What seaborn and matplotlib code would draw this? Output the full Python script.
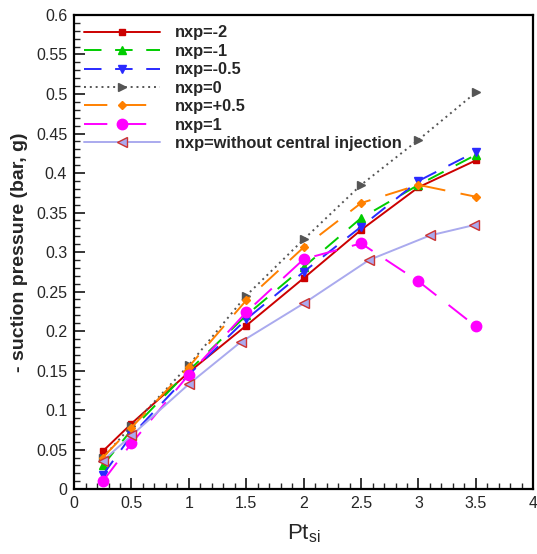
import matplotlib
matplotlib.use('Agg')
import matplotlib.pyplot as plt
from matplotlib.ticker import MultipleLocator
import seaborn as sns
import pandas as pd

sns.set_style('white')
plt.rcParams['font.family'] = ['Liberation Sans', 'DejaVu Sans']

# data
pt = [0.25, 0.5, 1, 1.5, 2, 2.5, 3, 3.5]
pt_without = [0.25, 0.5, 1, 1.45, 2, 2.57, 3.1, 3.48]

nxp_m2 = [0.048, 0.083, 0.148, 0.207, 0.267, 0.328, 0.382, 0.416]
nxp_m1 = [0.030, 0.075, 0.150, 0.220, 0.281, 0.343, 0.385, 0.423]
nxp_m05 = [0.018, 0.068, 0.145, 0.215, 0.275, 0.332, 0.390, 0.427]
nxp_0 = [0.040, 0.080, 0.157, 0.245, 0.316, 0.385, 0.442, 0.502]
nxp_p05 = [0.040, 0.078, 0.155, 0.239, 0.306, 0.362, 0.385, 0.370]
nxp_1 = [0.010, 0.058, 0.145, 0.224, 0.291, 0.311, 0.263, 0.206]
nxp_without = [0.036, 0.068, 0.133, 0.186, 0.235, 0.290, 0.321, 0.334]

labels = ['nxp=-2', 'nxp=-1', 'nxp=-0.5', 'nxp=0', 'nxp=+0.5', 'nxp=1',
          'nxp=without central injection']

series = [
    (pt, nxp_m2, dict(color='#cc0000', ls='-', marker='s', ms=5, mfc='#cc0000', mec='#cc0000')),
    (pt, nxp_m1, dict(color='#00cc00', ls=(0, (9, 7)), marker='^', ms=5.5, mfc='#00cc00', mec='#00cc00')),
    (pt, nxp_m05, dict(color='#2a2aff', ls=(0, (9, 7)), marker='v', ms=6, mfc='#2a2aff', mec='#2a2aff')),
    (pt, nxp_0, dict(color='#555555', ls=(0, (1, 2)), marker='>', ms=6, mfc='#555555', mec='#555555')),
    (pt, nxp_p05, dict(color='#ff8000', ls=(0, (12, 8)), marker='D', ms=4.5, mfc='#ff8000', mec='#ff8000')),
    (pt, nxp_1, dict(color='#ff00ff', ls=(0, (12, 8)), marker='o', ms=7.5, mfc='#ff00ff', mec='#ff00ff')),
    (pt_without, nxp_without, dict(color='#aaaaee', ls='-', marker='<', ms=7, mfc='#aaaaee', mec='#cc3333')),
]

fig = plt.figure(figsize=(5.37, 5.54), dpi=100)
ax = fig.add_axes([0.138, 0.117, 0.855, 0.856])

for (x, y, st), lab in zip(series, labels):
    df = pd.DataFrame({'x': x, 'y': y})
    sns.lineplot(data=df, x='x', y='y', ax=ax, label=lab, lw=1.4,
                 color=st['color'], linestyle=st['ls'], marker=st['marker'],
                 markersize=st['ms'], markerfacecolor=st['mfc'],
                 markeredgecolor=st['mec'], markeredgewidth=1)

ax.set_xlim(0, 4)
ax.set_ylim(0, 0.6)
ax.xaxis.set_major_locator(MultipleLocator(0.5))
ax.xaxis.set_minor_locator(MultipleLocator(0.1))
ax.yaxis.set_major_locator(MultipleLocator(0.05))
ax.yaxis.set_minor_locator(MultipleLocator(0.01))
ax.xaxis.set_major_formatter(lambda v, p: f'{v:g}')
ax.yaxis.set_major_formatter(lambda v, p: f'{v:g}')

ax.tick_params(which='major', direction='in', length=8, width=1.3, labelsize=11.5,
               bottom=True, left=True, top=False, right=False, pad=5)
ax.tick_params(which='minor', direction='in', length=4, width=1,
               bottom=True, left=True, top=False, right=False)
for s in ax.spines.values():
    s.set_color('black')
    s.set_linewidth(1.6)

ax.set_xlabel(r'Pt$_{\mathregular{si}}$', fontsize=16, labelpad=8)
ax.set_ylabel('- suction pressure (bar, g)', fontsize=14, fontweight='bold', labelpad=6)

ax.legend(loc='upper left', bbox_to_anchor=(0.022, 0.978), frameon=False,
          handlelength=4.6, handletextpad=0.95, labelspacing=0.21,
          borderpad=0, borderaxespad=0, prop={'size': 11.8, 'weight': 'bold'})

fig.savefig('out.png', dpi=100)
